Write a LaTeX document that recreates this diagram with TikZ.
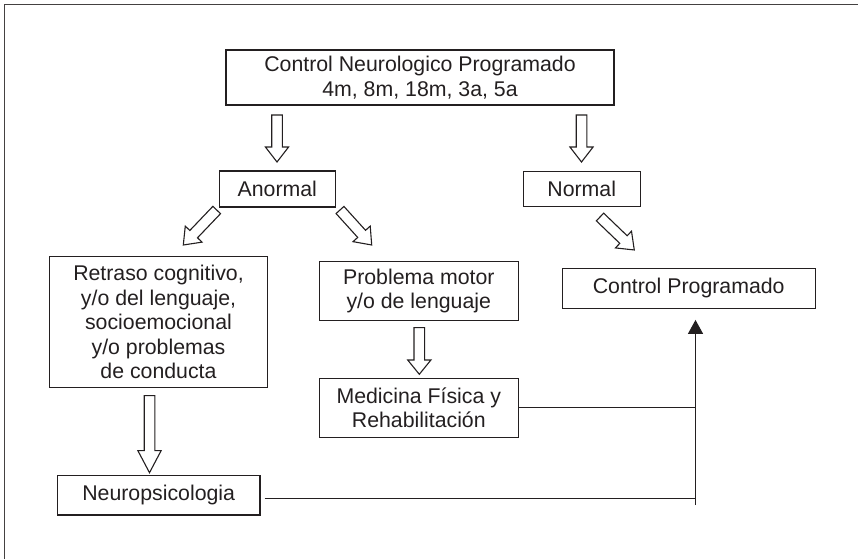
\documentclass[tikz,border=0pt]{standalone}
\usepackage{fontspec}
\setmainfont{Liberation Sans}
\usetikzlibrary{arrows.meta,calc}
\definecolor{ink}{HTML}{231F20}
\tikzset{
  box/.style={draw=ink, line width=1.2pt, text=ink, align=center, inner sep=0pt,
    font=\fontsize{21.3}{24.5}\selectfont},
  barr/.style={draw=ink, line width=1.1pt, fill=white, line join=miter},
  conn/.style={draw=ink, line width=1.2pt},
}
% hollow block arrow from #2 to #3, head length #1
\newcommand\blockarr[3][15]{%
  \draw[barr] let \p1=(#2), \p2=(#3),
    \n1={atan2(\y2-\y1,\x2-\x1)}, \n2={veclen(\x2-\x1,\y2-\y1)} in
    {[shift={(\p1)}, rotate=\n1]
    (0,5.3) -- ({\n2-#1},5.3) -- ({\n2-#1},11.6) -- (\n2,0) -- ({\n2-#1},-11.6)
    -- ({\n2-#1},-5.3) -- (0,-5.3) -- cycle};}
\begin{document}
\begin{tikzpicture}[x=1pt,y=1pt]
\useasboundingbox (0,0) rectangle (858,559);
% frame
\draw[draw=ink!85, line width=1.6pt] (4.5,0) -- (4.5,554.5) -- (858,554.5);
% nodes
\node[box, minimum width=388pt, minimum height=55pt] (top) at (420,481.5)
  {Control Neurologico Programado\\4m, 8m, 18m, 3a, 5a};
\node[box, minimum width=116pt, minimum height=36pt] (anormal) at (277.3,370) {Anormal};
\node[box, minimum width=117pt, minimum height=35pt] (normal) at (581.7,370) {Normal};
\node[box, minimum width=253pt, minimum height=40pt] (ctrl) at (688.7,270.7) {Control Programado};
\node[box, minimum width=218.4pt, minimum height=131.7pt] (retraso) at (158.5,237)
  {Retraso cognitivo,\\y/o del lenguaje,\\socioemocional\\y/o problemas\\de conducta};
\node[box, minimum width=199pt, minimum height=58.3pt] (problema) at (418.8,268)
  {Problema motor\\y/o de lenguaje};
\node[box, minimum width=199pt, minimum height=58.3pt] (medicina) at (418.8,151)
  {Medicina Física y\\Rehabilitación};
\node[box, minimum width=202.7pt, minimum height=39.3pt] (neuro) at (158.7,63.7) {Neuropsicologia};
% block arrow end points
\coordinate (a1s) at (277,444);   \coordinate (a1e) at (277,397);
\coordinate (a2s) at (581.5,444); \coordinate (a2e) at (581.5,397);
\coordinate (a3s) at (216.7,349); \coordinate (a3e) at (183.3,314);
\coordinate (a4s) at (340,349);   \coordinate (a4e) at (371.7,314);
\coordinate (a5s) at (600,342);   \coordinate (a5e) at (634.3,309);
\coordinate (a6s) at (419.3,231.3); \coordinate (a6e) at (419.3,184.7);
\coordinate (a7s) at (149.5,163.3); \coordinate (a7e) at (149.5,86.3);
\blockarr{a1s}{a1e}
\blockarr{a2s}{a2e}
\blockarr{a3s}{a3e}
\blockarr{a4s}{a4e}
\blockarr{a5s}{a5e}
\blockarr[14.3]{a6s}{a6e}
\blockarr[22]{a7s}{a7e}
% return connectors
\coordinate (jbot) at (695.5,54);
\coordinate (jmed) at (695.5,151.7);
\coordinate (jneu) at (695.5,60.5);
\draw[conn] ($(medicina.east)+(0,0.7)$) -- (jmed);
\draw[conn] ($(neuro.east)+(4,-3.2)$) -- (jneu);
\draw[conn, -{Triangle[width=15pt,length=14pt]}] (jbot) -- ($(ctrl.south)+(6.8,-11)$);
\end{tikzpicture}
\end{document}
